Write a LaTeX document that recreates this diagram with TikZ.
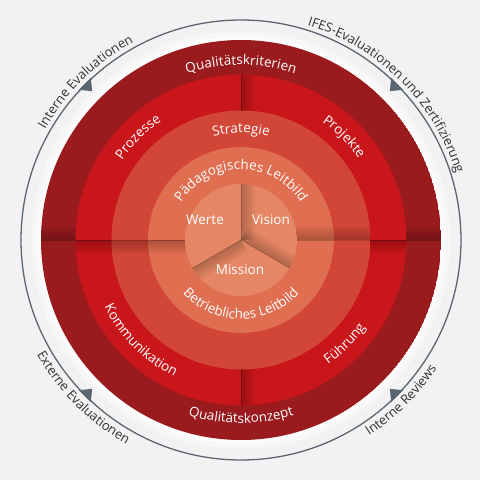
\documentclass[tikz,border=0pt]{standalone}
\usepackage{fontspec}
\setmainfont{Open Sans}
\usepackage{tikz}
\usetikzlibrary{decorations.text}

\definecolor{bggray}{HTML}{F2F2F2}
\definecolor{ringA}{HTML}{991B1E}
\definecolor{ringB}{HTML}{C8161B}
\definecolor{ringC}{HTML}{D24637}
\definecolor{ringD}{HTML}{E06E50}
\definecolor{ringE}{HTML}{E58764}
\definecolor{slate}{HTML}{5B6670}
\definecolor{labelgray}{HTML}{333333}

% soft shadow beside a dividing line: angle, side (+1/-1), radius
\newcommand\edgeshade[3]{%
  \begin{scope}[rotate=#1]
    \foreach \w in {2,4,...,14}
      \fill[black, opacity=.032] (0,0) rectangle (#3,#2*\w);
  \end{scope}}

\begin{document}
\begin{tikzpicture}[x=1pt, y=1pt,
    divider/.style={black, opacity=.25, line width=.7},
    topcw/.style={decoration={text along path, text align=center,
        text={|\fontsize{13.5}{13}\selectfont\color{white}|#1}}, decorate},
    outlabel/.style={decoration={text along path, text align=center,
        text={|\fontsize{13}{13}\selectfont\color{labelgray}|#1}}, decorate},
    inlabel/.style={text=white, font=\fontsize{13.5}{15}\selectfont},
    marker/.style={fill=slate}
 ]
\useasboundingbox (-241,-240) rectangle (239,240);
\fill[bggray] (-241,-240) rectangle (239,240);

% halo and cycle
\fill[white, opacity=.4] (0,0) circle (209);
\fill[white, opacity=.6] (0,0) circle (204);
\draw[slate, line width=1.3] (0,0) circle (220);
\foreach \a in {45,135,225,315}
  \fill[marker] (\a-2.2:221) -- (\a+2.2:221) -- (\a:210.5) -- cycle;

% Qualitaet ring
\begin{scope}
  \clip (0,0) circle (200);
  \fill[ringA] (0,0) circle (200);
  \edgeshade{180}{-1}{200}
  \edgeshade{0}{1}{200}
  \draw[divider] (-200,0) -- (200,0);
\end{scope}

% four fields
\begin{scope}
  \clip (0,0) circle (165.5);
  \fill[ringB] (0,0) circle (165.5);
  \edgeshade{180}{1}{165.5}
  \edgeshade{0}{-1}{165.5}
  \edgeshade{90}{-1}{165.5}
  \edgeshade{270}{1}{165.5}
  \draw[divider] (-165.5,0) -- (165.5,0);
  \draw[divider] (0,-165.5) -- (0,165.5);
\end{scope}

% Strategie ring
\begin{scope}
  \clip (0,0) circle (129.5);
  \fill[ringC] (0,0) circle (129.5);
  \edgeshade{180}{1}{129.5}
  \edgeshade{0}{1}{129.5}
  \draw[divider, opacity=.15] (-129.5,0) -- (129.5,0);
\end{scope}

% Leitbild ring
\begin{scope}
  \clip (0,0) circle (93);
  \fill[ringD] (0,0) circle (93);
  \edgeshade{180}{1}{93}
  \edgeshade{0}{1}{93}
  \draw[divider, opacity=.2] (-93,0) -- (93,0);
\end{scope}

% core
\begin{scope}
  \clip (0,0) circle (56);
  \fill[ringE] (0,0) circle (56);
  \edgeshade{90}{-1}{56}
  \edgeshade{210}{1}{56}
  \edgeshade{330}{1}{56}
  \foreach \a in {90,210,330}
    \draw[divider, opacity=.2] (0,0) -- (\a:56);
\end{scope}

\node[inlabel] (werte) at (-36,20) {Werte};
\node[inlabel] (vision) at (30,20) {Vision};
\node[inlabel] (mission) at (-1,-30) {Mission};

\path[topcw={Qualitätskriterien}] (160:175) arc[start angle=160, end angle=20, radius=175];
\path[topcw={Qualitätskonzept}] (200:183) arc[start angle=200, end angle=340, radius=183];
\path[topcw={Prozesse}] (180:143) arc[start angle=180, end angle=90, radius=143];
\path[topcw={Projekte}] (90:143) arc[start angle=90, end angle=0, radius=143];
\path[topcw={Kommunikation}] (180:152) arc[start angle=180, end angle=270, radius=152];
\path[topcw={Führung}] (270:152) arc[start angle=270, end angle=360, radius=152];
\path[topcw={Strategie}] (150:107) arc[start angle=150, end angle=30, radius=107];
\path[topcw={Pädagogisches Leitbild}] (175:70.5) arc[start angle=175, end angle=5, radius=70.5];
\path[topcw={Betriebliches Leitbild}] (185:79) arc[start angle=185, end angle=355, radius=79];

\path[outlabel={Interne Evaluationen}] (180:225) arc[start angle=180, end angle=89, radius=225];
\path[outlabel={IFES-Evaluationen und Zertifizierung}] (100:225) arc[start angle=100, end angle=-10, radius=225];
\path[outlabel={Externe Evaluationen}] (180:234) arc[start angle=180, end angle=270, radius=234];
\path[outlabel={Interne Reviews}] (270:234) arc[start angle=270, end angle=360, radius=234];
\end{tikzpicture}
\end{document}
